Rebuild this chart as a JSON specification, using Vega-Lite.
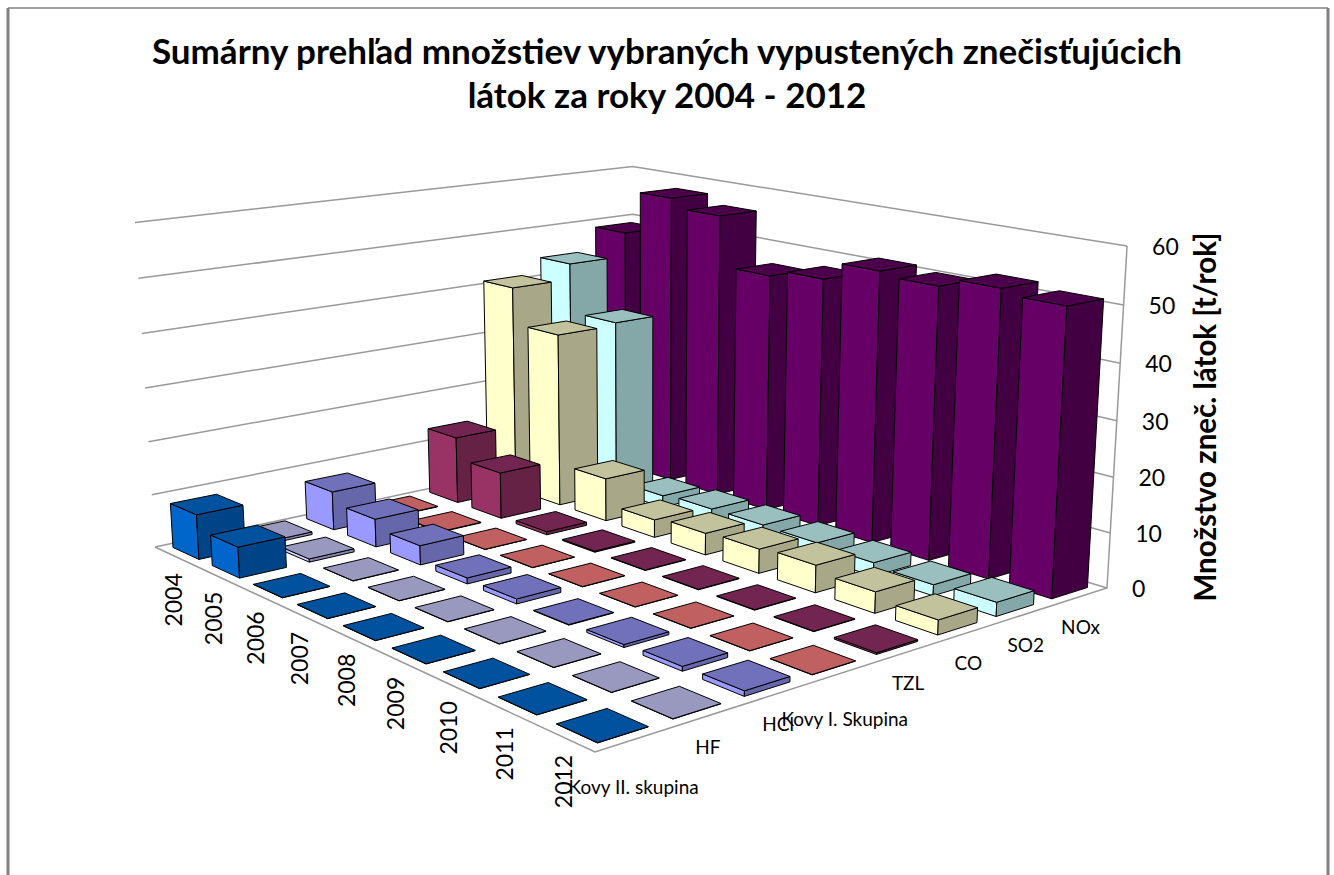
{"$schema":"https://vega.github.io/schema/vega-lite/v6.json","width":1334,"height":875,"autosize":{"type":"none"},"padding":0,"background":"white","view":{"stroke":null},"title":{"text":["Sumárny prehľad množstiev  vybraných vypustených znečisťujúcich","látok za  roky 2004 - 2012"],"font":"Lato","fontWeight":"bold","fontSize":35,"lineHeight":44,"color":"#000000","anchor":"middle","frame":"group","offset":-115},"config":{"axis":{"domain":false}},"layer":[{"data":{"values":[{"f":"left"}]},"mark":{"type":"rule","color":"#808080","strokeWidth":3},"encoding":{"x":{"datum":8,"type":"quantitative","scale":{"domain":[0,1334],"nice":false,"zero":false},"axis":null},"y":{"datum":8,"type":"quantitative","scale":{"domain":[875,0],"nice":false,"zero":false},"axis":null},"y2":{"datum":875}}},{"data":{"values":[{"f":"right"}]},"mark":{"type":"rule","color":"#808080","strokeWidth":3},"encoding":{"x":{"datum":1328,"type":"quantitative"},"y":{"datum":8,"type":"quantitative"},"y2":{"datum":875}}},{"data":{"values":[{"f":"top"}]},"mark":{"type":"rule","color":"#808080","strokeWidth":1.5},"encoding":{"x":{"datum":8,"type":"quantitative"},"x2":{"datum":1328},"y":{"datum":8,"type":"quantitative"}}},{"data":{"values":[{"path":"g0","s":0,"u":0,"v":0,"t":0},{"path":"g0","s":1,"u":0,"v":1,"t":0},{"path":"g0","s":2,"u":1,"v":1,"t":0},{"path":"g10","s":0,"u":0,"v":0,"t":10},{"path":"g10","s":1,"u":0,"v":1,"t":10},{"path":"g10","s":2,"u":1,"v":1,"t":10},{"path":"g20","s":0,"u":0,"v":0,"t":20},{"path":"g20","s":1,"u":0,"v":1,"t":20},{"path":"g20","s":2,"u":1,"v":1,"t":20},{"path":"g30","s":0,"u":0,"v":0,"t":30},{"path":"g30","s":1,"u":0,"v":1,"t":30},{"path":"g30","s":2,"u":1,"v":1,"t":30},{"path":"g40","s":0,"u":0,"v":0,"t":40},{"path":"g40","s":1,"u":0,"v":1,"t":40},{"path":"g40","s":2,"u":1,"v":1,"t":40},{"path":"g50","s":0,"u":0,"v":0,"t":50},{"path":"g50","s":1,"u":0,"v":1,"t":50},{"path":"g50","s":2,"u":1,"v":1,"t":50},{"path":"g60","s":0,"u":0,"v":0,"t":60},{"path":"g60","s":1,"u":0,"v":1,"t":60},{"path":"g60","s":2,"u":1,"v":1,"t":60},{"path":"edge","s":0,"u":0,"v":0,"t":0},{"path":"edge","s":1,"u":1,"v":0,"t":0},{"path":"edge","s":2,"u":1,"v":1,"t":0},{"path":"edge","s":3,"u":1,"v":1,"t":60}]},"transform":[{"calculate":"datum.t/60","as":"w"},{"calculate":"1-0.22689*datum.u+0.17335*datum.v-0.03929*datum.w","as":"den"},{"calculate":"(155+305*datum.u+587.73*datum.v-25.3*datum.w)/datum.den","as":"X"},{"calculate":"(547+34.38*datum.u-24.86*datum.v-333.3*datum.w)/datum.den","as":"Y"}],"mark":{"type":"line","color":"#999999","strokeWidth":1.5},"encoding":{"x":{"field":"X","type":"quantitative"},"y":{"field":"Y","type":"quantitative"},"detail":{"field":"path"},"order":{"field":"s"}}},{"data":{"values":[{"year":2004,"pollutant":"NOx","value":48.8},{"year":2004,"pollutant":"SO2","value":44.1},{"year":2004,"pollutant":"CO","value":41},{"year":2004,"pollutant":"TZL","value":13.1},{"year":2004,"pollutant":"Kovy I. Skupina","value":0.1},{"year":2004,"pollutant":"HCl","value":7.4},{"year":2004,"pollutant":"HF","value":0.5},{"year":2004,"pollutant":"Kovy II. skupina","value":8.4},{"year":2005,"pollutant":"NOx","value":57.5},{"year":2005,"pollutant":"SO2","value":34.4},{"year":2005,"pollutant":"CO","value":33.9},{"year":2005,"pollutant":"TZL","value":9},{"year":2005,"pollutant":"Kovy I. Skupina","value":0.1},{"year":2005,"pollutant":"HCl","value":5.3},{"year":2005,"pollutant":"HF","value":0.6},{"year":2005,"pollutant":"Kovy II. skupina","value":5.7},{"year":2006,"pollutant":"NOx","value":55.7},{"year":2006,"pollutant":"SO2","value":2.3},{"year":2006,"pollutant":"CO","value":8.3},{"year":2006,"pollutant":"TZL","value":0.6},{"year":2006,"pollutant":"Kovy I. Skupina","value":0.05},{"year":2006,"pollutant":"HCl","value":3.6},{"year":2006,"pollutant":"HF","value":0.05},{"year":2006,"pollutant":"Kovy II. skupina","value":0.05},{"year":2007,"pollutant":"NOx","value":46},{"year":2007,"pollutant":"SO2","value":2.8},{"year":2007,"pollutant":"CO","value":3.4},{"year":2007,"pollutant":"TZL","value":0.2},{"year":2007,"pollutant":"Kovy I. Skupina","value":0.05},{"year":2007,"pollutant":"HCl","value":1.1},{"year":2007,"pollutant":"HF","value":0.05},{"year":2007,"pollutant":"Kovy II. skupina","value":0.05},{"year":2008,"pollutant":"NOx","value":47.4},{"year":2008,"pollutant":"SO2","value":2.9},{"year":2008,"pollutant":"CO","value":4.1},{"year":2008,"pollutant":"TZL","value":0.1},{"year":2008,"pollutant":"Kovy I. Skupina","value":0.05},{"year":2008,"pollutant":"HCl","value":0.9},{"year":2008,"pollutant":"HF","value":0.05},{"year":2008,"pollutant":"Kovy II. skupina","value":0.05},{"year":2009,"pollutant":"NOx","value":50.9},{"year":2009,"pollutant":"SO2","value":2.8},{"year":2009,"pollutant":"CO","value":4.5},{"year":2009,"pollutant":"TZL","value":0.1},{"year":2009,"pollutant":"Kovy I. Skupina","value":0.05},{"year":2009,"pollutant":"HCl","value":0.1},{"year":2009,"pollutant":"HF","value":0.05},{"year":2009,"pollutant":"Kovy II. skupina","value":0.05},{"year":2010,"pollutant":"NOx","value":50.2},{"year":2010,"pollutant":"SO2","value":2.5},{"year":2010,"pollutant":"CO","value":5},{"year":2010,"pollutant":"TZL","value":0.1},{"year":2010,"pollutant":"Kovy I. Skupina","value":0.05},{"year":2010,"pollutant":"HCl","value":0.5},{"year":2010,"pollutant":"HF","value":0.05},{"year":2010,"pollutant":"Kovy II. skupina","value":0.05},{"year":2011,"pollutant":"NOx","value":51.9},{"year":2011,"pollutant":"SO2","value":2},{"year":2011,"pollutant":"CO","value":3.8},{"year":2011,"pollutant":"TZL","value":0.1},{"year":2011,"pollutant":"Kovy I. Skupina","value":0.05},{"year":2011,"pollutant":"HCl","value":0.8},{"year":2011,"pollutant":"HF","value":0.05},{"year":2011,"pollutant":"Kovy II. skupina","value":0.05},{"year":2012,"pollutant":"NOx","value":51},{"year":2012,"pollutant":"SO2","value":2.5},{"year":2012,"pollutant":"CO","value":2.6},{"year":2012,"pollutant":"TZL","value":0.3},{"year":2012,"pollutant":"Kovy I. Skupina","value":0.05},{"year":2012,"pollutant":"HCl","value":0.9},{"year":2012,"pollutant":"HF","value":0.05},{"year":2012,"pollutant":"Kovy II. skupina","value":0.05}]},"transform":[{"calculate":"datum.year-2004","as":"i"},{"calculate":"indexof(['Kovy II. skupina','HF','HCl','Kovy I. Skupina','TZL','CO','SO2','NOx'],datum.pollutant)","as":"j"},{"calculate":"['L','R','T']","as":"face"},{"flatten":["face"]},{"calculate":"[0,1,2,3,4]","as":"vtx"},{"flatten":["vtx"]},{"calculate":"[0,1,1,0,0][datum.vtx]","as":"pa"},{"calculate":"[0,0,1,1,0][datum.vtx]","as":"pb"},{"calculate":"(datum.i+1/6)/9","as":"u0"},{"calculate":"(datum.i+5/6)/9","as":"u1"},{"calculate":"(datum.j+1/6)/8","as":"v0"},{"calculate":"(datum.j+5/6)/8","as":"v1"},{"calculate":"datum.face=='R'?datum.u1:datum.u0+datum.pa*(datum.u1-datum.u0)","as":"u"},{"calculate":"datum.face=='L'?datum.v0:datum.face=='R'?datum.v0+datum.pa*(datum.v1-datum.v0):datum.v0+datum.pb*(datum.v1-datum.v0)","as":"v"},{"calculate":"datum.face=='T'?datum.value/60:datum.pb*datum.value/60","as":"w"},{"calculate":"1-0.22689*datum.u+0.17335*datum.v-0.03929*datum.w","as":"den"},{"calculate":"(155+305*datum.u+587.73*datum.v-25.3*datum.w)/datum.den","as":"X"},{"calculate":"(547+34.38*datum.u-24.86*datum.v-333.3*datum.w)/datum.den","as":"Y"},{"calculate":"datum.pollutant+'|'+datum.face","as":"key"},{"calculate":"datum.year+'|'+datum.pollutant+'|'+datum.face","as":"bar"}],"mark":{"type":"line","filled":true,"stroke":"#000000","strokeWidth":1,"strokeJoin":"miter"},"encoding":{"x":{"field":"X","type":"quantitative"},"y":{"field":"Y","type":"quantitative"},"detail":{"field":"bar"},"order":{"field":"vtx"},"fill":{"field":"key","type":"nominal","legend":null,"scale":{"domain":["Kovy II. skupina|L","Kovy II. skupina|R","Kovy II. skupina|T","HF|L","HF|R","HF|T","HCl|L","HCl|R","HCl|T","Kovy I. Skupina|L","Kovy I. Skupina|R","Kovy I. Skupina|T","TZL|L","TZL|R","TZL|T","CO|L","CO|R","CO|T","SO2|L","SO2|R","SO2|T","NOx|L","NOx|R","NOx|T"],"range":["#0066cc","#004488","#00529f","#ccccff","#8484ae","#9999bf","#9999ff","#6666aa","#7070bb","#ff8080","#aa5555","#c06060","#993366","#662244","#722550","#ffffcc","#a8a888","#c2c29c","#ccffff","#84a8a8","#99bfbf","#660066","#420042","#4c004c"]}}}},{"data":{"values":[{"tick":"0","t":0},{"tick":"10","t":10},{"tick":"20","t":20},{"tick":"30","t":30},{"tick":"40","t":40},{"tick":"50","t":50},{"tick":"60","t":60}]},"transform":[{"calculate":"datum.t/60","as":"w"},{"calculate":"0.94646-0.03929*datum.w","as":"den"},{"calculate":"(1047.73-25.3*datum.w)/datum.den+25","as":"X"},{"calculate":"(556.52-333.3*datum.w)/datum.den+2","as":"Y"}],"mark":{"type":"text","font":"Lato","fontSize":23,"align":"left","baseline":"middle","color":"#000000"},"encoding":{"x":{"field":"X","type":"quantitative"},"y":{"field":"Y","type":"quantitative"},"text":{"field":"tick"}}},{"data":{"values":[{"year":"2004","i":0},{"year":"2005","i":1},{"year":"2006","i":2},{"year":"2007","i":3},{"year":"2008","i":4},{"year":"2009","i":5},{"year":"2010","i":6},{"year":"2011","i":7},{"year":"2012","i":8}]},"transform":[{"calculate":"(datum.i+0.5)/9","as":"u"},{"calculate":"1-0.22689*datum.u","as":"den"},{"calculate":"(155+305*datum.u)/datum.den+1","as":"X"},{"calculate":"(547+34.38*datum.u)/datum.den+44","as":"Y"}],"mark":{"type":"text","font":"Lato","fontSize":23,"align":"center","baseline":"middle","angle":270,"color":"#000000"},"encoding":{"x":{"field":"X","type":"quantitative"},"y":{"field":"Y","type":"quantitative"},"text":{"field":"year"}}},{"data":{"values":[{"label":"Kovy II. skupina","j":0},{"label":"HF","j":1},{"label":"HCl","j":2},{"label":"Kovy I. Skupina","j":3},{"label":"TZL","j":4},{"label":"CO","j":5},{"label":"SO2","j":6},{"label":"NOx","j":7}]},"transform":[{"calculate":"(datum.j+0.5)/8","as":"v"},{"calculate":"0.77311+0.17335*datum.v","as":"den"},{"calculate":"(460+587.73*datum.v)/datum.den","as":"X"},{"calculate":"(581.38-24.86*datum.v)/datum.den+(length(datum.label)>3?48:32)","as":"Y"}],"mark":{"type":"text","font":"Lato","fontSize":19,"align":"center","baseline":"middle","color":"#000000"},"encoding":{"x":{"field":"X","type":"quantitative"},"y":{"field":"Y","type":"quantitative"},"text":{"field":"label"}}},{"data":{"values":[{"label":"Množstvo zneč. látok [t/rok]","X":1207,"Y":417}]},"mark":{"type":"text","font":"Lato","fontWeight":"bold","fontSize":29.5,"align":"center","baseline":"middle","angle":270,"color":"#000000"},"encoding":{"x":{"field":"X","type":"quantitative"},"y":{"field":"Y","type":"quantitative"},"text":{"field":"label"}}}]}
